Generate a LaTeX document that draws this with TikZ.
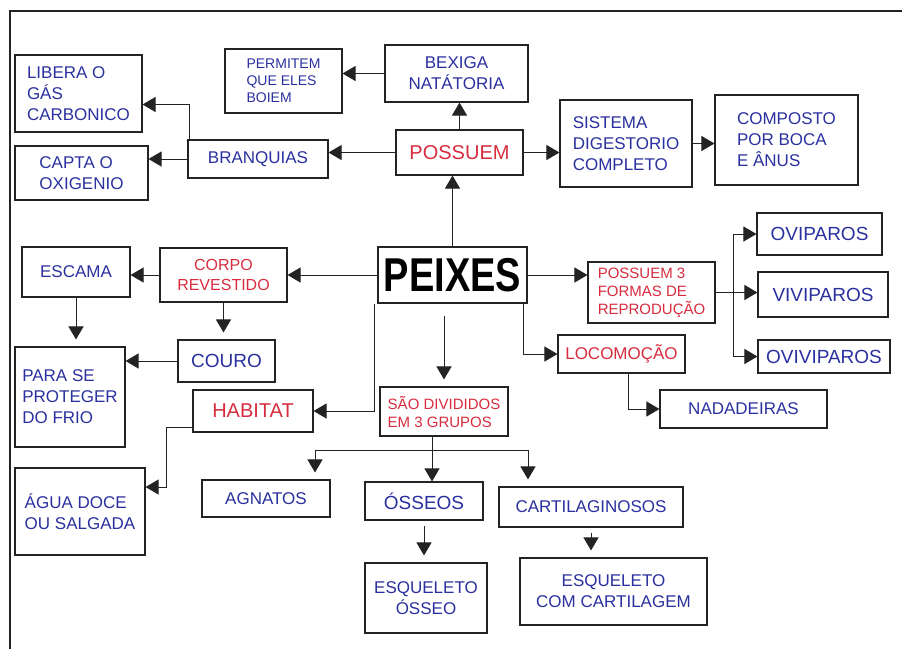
\documentclass[tikz,border=0pt]{standalone}
\usepackage{fontspec}
\setmainfont{Liberation Sans}
\usepackage{tikz}
\usetikzlibrary{arrows.meta,positioning}
\definecolor{inkblue}{RGB}{42,48,158}
\definecolor{inkred}{RGB}{214,44,62}
\definecolor{pen}{RGB}{35,35,35}
\tikzset{
	box/.style={draw=pen,rectangle,line width=1.1pt,inner sep=3pt,align=left,text=inkblue,font=\fontsize{17}{21}\selectfont},
	redbox/.style={box,text=inkred},
	gap/.style={shorten >=7pt},
	link/.style={draw=pen,line width=1pt}
}
\begin{document}
\begin{tikzpicture}[x=1pt,y=-1pt,>={Triangle[length=13pt,width=15pt]}]
			\useasboundingbox (0,0) rectangle (902,649);
			\draw[pen,line width=2pt] (10,649) -- (10,11) -- (902,11);

			\node[box,font=\fontsize{38}{40}\bfseries,text=black,align=center,minimum width=149pt,minimum height=56pt] (peixes) at (452.5,275) {\scalebox{1}[1.25]{PEIXES}};

			\node[redbox,font=\fontsize{20}{24}\selectfont,minimum width=127pt,minimum height=45pt] (possuem) at (459.5,152.5) {POSSUEM};
			\node[box,align=center,minimum width=143pt,minimum height=57pt] (bexiga) at (456.5,73.5) {BEXIGA\\NATÁTORIA};
			\node[box,font=\fontsize{14}{17}\selectfont,minimum width=117pt,minimum height=64pt] (permitem) at (283.5,81) {PERMITEM\\QUE ELES\\BOIEM};
			\node[box,minimum width=140pt,minimum height=38pt] (branquias) at (258,159) {BRANQUIAS};
			\node[box,minimum width=127pt,minimum height=77pt] (libera) at (78.5,93.5) {LIBERA O\\GÁS\\CARBONICO};
			\node[box,minimum width=133pt,minimum height=54pt] (capta) at (81.5,173) {CAPTA O\\OXIGENIO};
			\node[box,minimum width=132pt,minimum height=87pt] (sistema) at (626,143.5) {SISTEMA\\DIGESTORIO\\COMPLETO};
			\node[box,minimum width=143pt,minimum height=90pt] (composto) at (786.5,140) {COMPOSTO\\POR BOCA\\E ÂNUS};

			\node[redbox,font=\fontsize{16}{20}\selectfont,align=center,minimum width=127pt,minimum height=54pt] (corpo) at (223.5,275) {CORPO\\REVESTIDO};
			\node[box,minimum width=108pt,minimum height=50pt] (escama) at (76,272) {ESCAMA};
			\node[box,font=\fontsize{19}{23}\selectfont,minimum width=97pt,minimum height=42pt] (couro) at (226.5,361) {COURO};
			\node[box,minimum width=110pt,minimum height=100pt] (para) at (70,397) {PARA SE\\PROTEGER\\DO FRIO};
			\node[redbox,font=\fontsize{20}{24}\selectfont,minimum width=120pt,minimum height=42pt] (habitat) at (253,411) {HABITAT};
			\node[box,minimum width=130pt,minimum height=87pt] (agua) at (80,511.5) {ÁGUA DOCE\\OU SALGADA};

			\node[redbox,font=\fontsize{15}{18}\selectfont,minimum width=127pt,minimum height=61pt] (formas) at (651.5,292.5) {POSSUEM 3\\FORMAS DE\\REPRODUÇÃO};
			\node[box,font=\fontsize{19}{23}\selectfont,minimum width=125pt,minimum height=42pt] (oviparos) at (819.5,234) {OVIPAROS};
			\node[box,font=\fontsize{19}{23}\selectfont,minimum width=130pt,minimum height=45pt] (viviparos) at (823,294.5) {VIVIPAROS};
			\node[box,font=\fontsize{19}{23}\selectfont,minimum width=132pt,minimum height=33pt] (ovivi) at (824,356.5) {OVIVIPAROS};
			\node[redbox,minimum width=127pt,minimum height=38pt] (locomocao) at (621.5,354) {LOCOMOÇÃO};
			\node[box,minimum width=167pt,minimum height=38pt] (nadadeiras) at (743.5,409) {NADADEIRAS};

			\node[redbox,font=\fontsize{15}{18}\selectfont,minimum width=128pt,minimum height=49pt] (grupos) at (444,411.5) {SÃO DIVIDIDOS\\EM 3 GRUPOS};
			\node[box,minimum width=128pt,minimum height=37pt] (agnatos) at (266,498.5) {AGNATOS};
			\node[box,font=\fontsize{19}{23}\selectfont,minimum width=118pt,minimum height=38pt] (osseos) at (424,501) {ÓSSEOS};
			\node[box,minimum width=184pt,minimum height=40pt] (cartil) at (591,507) {CARTILAGINOSOS};
			\node[box,align=center,minimum width=122pt,minimum height=70pt] (esqosseo) at (426,598) {ESQUELETO\\ÓSSEO};
			\node[box,align=center,minimum width=187pt,minimum height=67pt] (esqcart) at (613.5,591.5) {ESQUELETO\\COM CARTILAGEM};

			\coordinate[right=18pt of formas.east] (fork);
			\coordinate (split) at (432,450);

			\draw[link,->] (peixes.north) -- (peixes.north |- possuem.south);
			\draw[link,->] (possuem.north) -- (possuem.north |- bexiga.south);
			\draw[link,->] (bexiga.west) -- (permitem.east |- bexiga.west);
			\draw[link,->] (possuem.west) -- (branquias.east |- possuem.west);
			\draw[link,->] (possuem.east) -- (sistema.west |- possuem.east);
			\draw[link,->] (sistema.east) -- (composto.west |- sistema.east);
			\draw[link,->] (branquias.west) -- (capta.east |- branquias.west);
			\draw[link,->] ([xshift=2pt]branquias.north west) |- ([yshift=-11pt]libera.east);

			\draw[link,->] (peixes.west) -- (corpo.east |- peixes.west);
			\draw[link,->] (corpo.west) -- (escama.east |- corpo.west);
			\draw[link,->,gap] (escama.south) -- (escama.south |- para.north);
			\draw[link,->,gap] (corpo.south) -- (corpo.south |- couro.north);
			\draw[link,->] (couro.west) -- (para.east |- couro.west);
			\draw[link,->] ([xshift=-3pt]peixes.south west) |- (habitat.east);
			\draw[link,->] ([yshift=-16pt]habitat.west) -- ++(-26,0) |- ([yshift=24.5pt]agua.east);

			\draw[link,->] (peixes.east) -- (formas.west |- peixes.east);
			\draw[link] (formas.east) -- (fork);
			\draw[link,->] (fork) |- (oviparos.west);
			\draw[link,->] (fork) -- (fork -| viviparos.west);
			\draw[link,->] (fork) |- (ovivi.west);
			\draw[link,->] ([xshift=-4pt]peixes.south east) |- (locomocao.west);
			\draw[link,->] ([xshift=7pt]locomocao.south) |- (nadadeiras.west);

			\draw[link,->,gap,shorten <=12pt] (grupos.north |- peixes.south) -- (grupos.north);
			\draw[link] (grupos.south -| split) -- (split);
			\draw[link,->] (split) -- (split |- osseos.north);
			\draw[link,->,gap] (split) -| ([xshift=49pt]agnatos.north);
			\draw[link,->,gap] (split) -| ([xshift=-63pt]cartil.north);
			\draw[link,->,gap,shorten <=5pt] (osseos.south) -- (osseos.south |- esqosseo.north);
			\draw[link,->,gap,shorten <=5pt] (cartil.south) -- (cartil.south |- esqcart.north);
		\end{tikzpicture}
\end{document}
